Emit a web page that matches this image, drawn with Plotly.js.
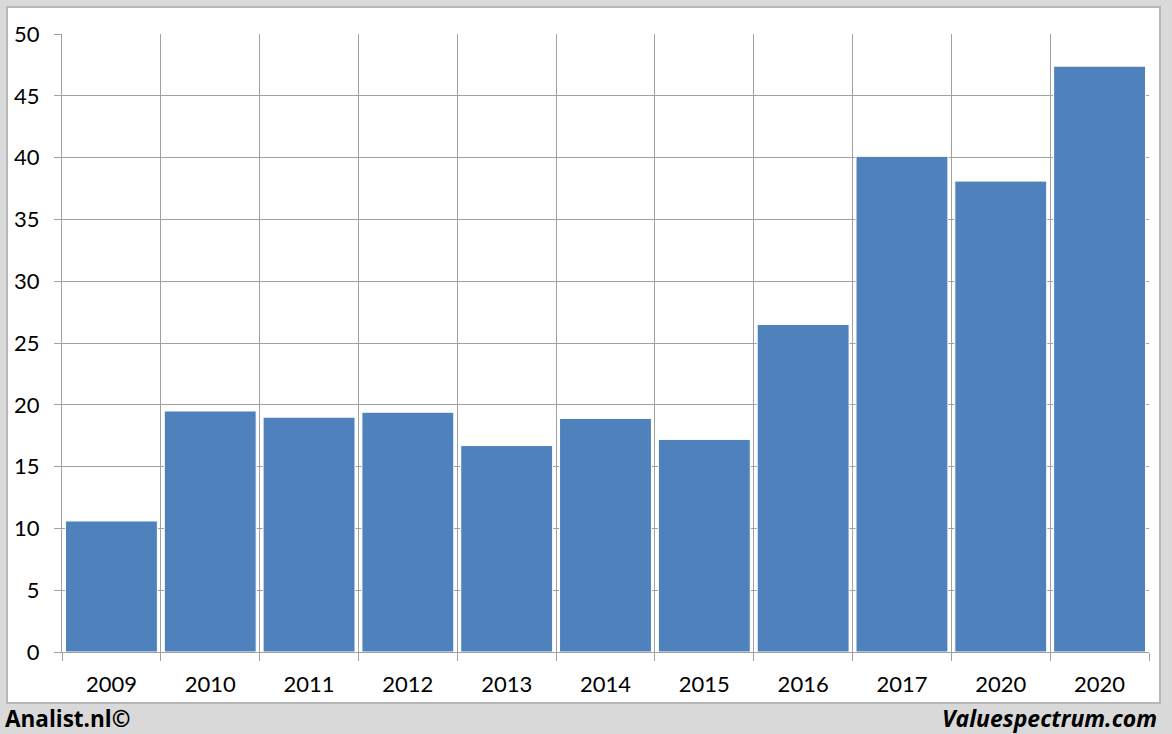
<!DOCTYPE html>
<html>
<head>
<meta charset="utf-8">
<script src="https://cdn.plot.ly/plotly-3.0.1.min.js"></script>
<style>html,body{margin:0;padding:0;background:#d9d9d9;}#chart{width:1172px;height:734px;}</style>
</head>
<body>
<div id="chart"></div>
<script>
const categories = ["2009","2010","2011","2012","2013","2014","2015","2016","2017","2020","2020"];
const values = [10.6, 19.5, 19.0, 19.4, 16.7, 18.9, 17.2, 26.5, 40.1, 38.1, 47.4];
const yTicks = [0,5,10,15,20,25,30,35,40,45,50];

const positions = categories.map((c, i) => i);
const boundaries = [];
for (let i = 0; i <= categories.length; i++) boundaries.push(i - 0.5);

const fontFam = "Lato, 'Open Sans', sans-serif";
const footFam = "'Open Sans', Lato, sans-serif";

const trace = {
  type: 'bar',
  x: positions,
  y: values,
  marker: {color: '#4f81bd', line: {color: '#ffffff', width: 1}},
  hoverinfo: 'y',
  xaxis: 'x',
  yaxis: 'y'
};
const labelTrace = {
  type: 'scatter', mode: 'markers', x: positions, y: values.map(() => null),
  xaxis: 'x2', yaxis: 'y', showlegend: false, hoverinfo: 'skip'
};

const layout = {
  width: 1172, height: 734,
  margin: {l: 62, r: 23, t: 34, b: 82},
  paper_bgcolor: '#d9d9d9',
  plot_bgcolor: 'rgba(0,0,0,0)',
  showlegend: false,
  bargap: 0.07,
  xaxis: {
    range: [-0.5, categories.length - 0.5],
    tickmode: 'array', tickvals: boundaries, showticklabels: false,
    showgrid: true, gridcolor: '#a0a0a0', gridwidth: 1,
    ticks: 'outside', ticklen: 8, tickcolor: '#a0a0a0',
    showline: true, linecolor: '#a0a0a0', linewidth: 1,
    zeroline: false, fixedrange: true
  },
  xaxis2: {
    overlaying: 'x', anchor: 'y', side: 'bottom',
    range: [-0.5, categories.length - 0.5],
    tickmode: 'array', tickvals: positions, ticktext: categories,
    showgrid: false, ticks: '', showline: false, zeroline: false,
    tickfont: {family: fontFam, size: 22, color: '#000'},
    ticklabelstandoff: 17
  },
  yaxis: {
    range: [0, 50],
    tickmode: 'array', tickvals: yTicks,
    showgrid: true, gridcolor: '#a0a0a0', gridwidth: 1,
    ticks: 'outside', ticklen: 7, tickcolor: '#a0a0a0',
    showline: true, linecolor: '#a0a0a0', linewidth: 1,
    zeroline: false,
    tickfont: {family: fontFam, size: 22, color: '#000'},
    ticklabelstandoff: 10
  },
  shapes: [{
    type: 'rect', xref: 'paper', yref: 'paper', layer: 'below',
    x0: (7 - 62) / 1087, x1: (1160 - 62) / 1087,
    y0: (652 - 703) / 618, y1: (652 - 7) / 618,
    fillcolor: '#ffffff', line: {color: '#b8b8b8', width: 2}
  }],
  annotations: [
    {text: '<b>Analist.nl©</b>', xref: 'paper', yref: 'paper',
     x: (3 - 62) / 1087, y: (652 - 718) / 618, xanchor: 'left', yanchor: 'middle',
     showarrow: false, font: {family: footFam, size: 22.5, color: '#000'}},
    {text: '<b><i>Valuespectrum.com</i></b>', xref: 'paper', yref: 'paper',
     x: (1159 - 62) / 1087, y: (652 - 718) / 618, xanchor: 'right', yanchor: 'middle',
     showarrow: false, font: {family: footFam, size: 23, color: '#000'}}
  ]
};

Plotly.newPlot('chart', [trace, labelTrace], layout, {displayModeBar: false, staticPlot: true});
</script>
</body>
</html>
